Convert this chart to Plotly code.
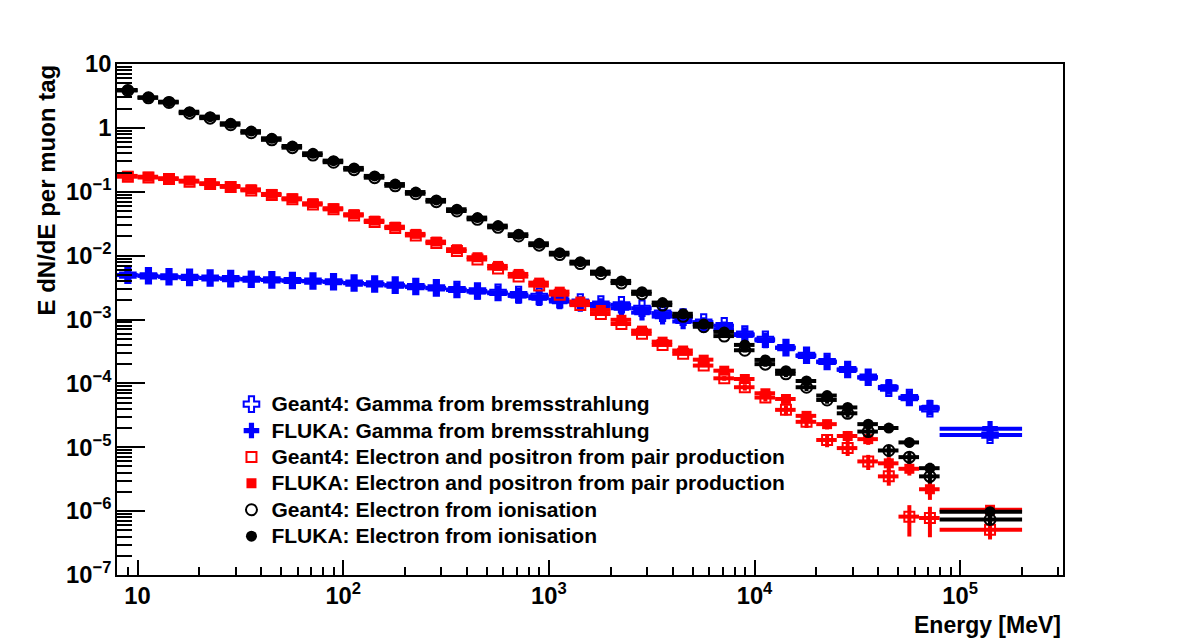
import plotly.graph_objects as go

# ---------------- data ----------------
# log-spaced bins: 10 per decade from 10^0.9 to 10^4.9, plus one wide overflow bin up to 2e5
bin_edges_exp = [0.9 + 0.1 * k for k in range(41)]
bin_lo = [10 ** e for e in bin_edges_exp[:-1]] + [10 ** 4.9]
bin_hi = [10 ** e for e in bin_edges_exp[1:]] + [2.0e5]

fluka_ion = [3.92, 3.01, 2.57, 1.79, 1.50, 1.18, 0.89, 0.687, 0.52, 0.40,
             0.307, 0.236, 0.177, 0.132, 0.099, 0.0745, 0.0532, 0.0394, 0.0295, 0.0216,
             0.0156, 0.0111, 0.00805, 0.00562, 0.00402, 0.00273, 0.00184, 0.00123, 8.5e-4, 6.4e-4,
             4.0e-4, 2.33e-4, 1.58e-4, 1.09e-4, 6.45e-5, 4.2e-5, 2.3e-5, 2.0e-5, 1.19e-5, 4.7e-6,
             9.8e-7]
geant4_ion = [3.85, 2.95, 2.50, 1.70, 1.42, 1.12, 0.84, 0.65, 0.49, 0.375,
              0.29, 0.222, 0.166, 0.124, 0.093, 0.070, 0.050, 0.037, 0.0277, 0.0203,
              0.0146, 0.0104, 0.0075, 0.0052, 0.00372, 0.00252, 0.00168, 0.00112, 7.7e-4, 5.5e-4,
              3.3e-4, 2.0e-4, 1.41e-4, 8.7e-5, 5.5e-5, 3.4e-5, 1.76e-5, 8.9e-6, 7.0e-6, 3.5e-6,
              7.4e-7]
fluka_pair = [0.177, 0.172, 0.163, 0.149, 0.136, 0.123, 0.109, 0.0924, 0.079, 0.066,
              0.0552, 0.0445, 0.0353, 0.0284, 0.0219, 0.0166, 0.0126, 0.00944, 0.0069, 0.00517,
              0.00378, 0.00273, 0.00191, 0.00141, 9.9e-4, 6.7e-4, 4.5e-4, 3.27e-4, 2.35e-4, 1.58e-4,
              1.17e-4, 7.0e-5, 5.7e-5, 3.1e-5, 2.3e-5, 1.5e-5, 1.34e-5, 5.6e-6, 4.6e-6, 2.2e-6,
              1.05e-6]
geant4_pair = [0.172, 0.167, 0.158, 0.144, 0.132, 0.119, 0.105, 0.089, 0.076, 0.063,
               0.053, 0.0425, 0.0336, 0.027, 0.0207, 0.0157, 0.0118, 0.0087, 0.0063, 0.0047,
               0.0034, 0.00245, 0.00168, 0.00122, 8.5e-4, 5.96e-4, 4.0e-4, 2.9e-4, 1.9e-4, 1.2e-4,
               8.7e-5, 6.0e-5, 3.85e-5, 2.5e-5, 1.3e-5, 9.7e-6, 6.0e-6, 3.5e-6, 8.2e-7, 7.8e-7,
               5.1e-7]
fluka_brems = [4.99e-3, 4.86e-3, 4.69e-3, 4.59e-3, 4.48e-3, 4.37e-3, 4.27e-3, 4.17e-3, 4.06e-3, 3.98e-3,
               3.89e-3, 3.70e-3, 3.57e-3, 3.40e-3, 3.24e-3, 3.09e-3, 2.90e-3, 2.73e-3, 2.58e-3, 2.34e-3,
               2.15e-3, 1.91e-3, 1.75e-3, 1.63e-3, 1.50e-3, 1.28e-3, 1.11e-3, 9.3e-4, 8.2e-4, 7.0e-4,
               5.7e-4, 4.7e-4, 3.6e-4, 2.69e-4, 2.15e-4, 1.63e-4, 1.23e-4, 8.8e-5, 5.9e-5, 4.2e-5,
               1.95e-5]
geant4_brems = [4.95e-3, 4.83e-3, 4.67e-3, 4.57e-3, 4.46e-3, 4.36e-3, 4.27e-3, 4.17e-3, 4.08e-3, 4.00e-3,
                3.90e-3, 3.72e-3, 3.60e-3, 3.45e-3, 3.28e-3, 3.13e-3, 2.95e-3, 2.80e-3, 2.66e-3, 2.45e-3,
                2.30e-3, 2.05e-3, 1.88e-3, 1.75e-3, 1.70e-3, 1.50e-3, 1.26e-3, 1.09e-3, 9.1e-4, 8.0e-4,
                5.9e-4, 4.9e-4, 3.63e-4, 2.75e-4, 2.2e-4, 1.65e-4, 1.25e-4, 8.4e-5, 6.0e-5, 4.0e-5,
                1.55e-5]

# vertical (statistical) errors, only visible in the high-energy tail
fluka_ion_err = [0] * 28 + [3e-5, 3e-5, 2.5e-5, 2e-5, 1.6e-5, 1.2e-5, 8e-6, 6e-6, 4e-6, 3e-6, 2e-6, 1e-6, 1.5e-7]
geant4_ion_err = [0] * 28 + [3e-5, 3e-5, 2.5e-5, 1.8e-5, 1.6e-5, 1.1e-5, 7e-6, 5e-6, 3e-6, 1.8e-6, 1.5e-6, 8e-7, 1.2e-7]
fluka_pair_err = [0] * 28 + [1.5e-5, 1.2e-5, 1.0e-5, 8e-6, 7e-6, 4.5e-6, 4e-6, 3e-6, 2.5e-6, 1.4e-6, 1.0e-6, 7e-7, 1.5e-7]
geant4_pair_err_up = [0] * 28 + [1.0e-5, 1.0e-5, 1.0e-5, 8e-6, 7e-6, 5e-6, 3e-6, 2.4e-6, 1.6e-6, 1.0e-6, 4.2e-7, 3.9e-7, 6.5e-7]
geant4_pair_err_dn = [0] * 28 + [1.0e-5, 1.0e-5, 1.0e-5, 8e-6, 7e-6, 5e-6, 3e-6, 2.4e-6, 1.6e-6, 1.0e-6, 4.2e-7, 3.9e-7, 1.5e-7]
fluka_brems_err = [0] * 36 + [1e-5, 8e-6, 6e-6, 5e-6, 4.5e-6]
geant4_brems_err = [0] * 36 + [1e-5, 8e-6, 6e-6, 5e-6, 3e-6]

x_center = [(lo + hi) / 2 for lo, hi in zip(bin_lo, bin_hi)]
x_half = [(hi - lo) / 2 for lo, hi in zip(bin_lo, bin_hi)]

BLUE = "#0000ff"
RED = "#ff0000"
BLACK = "#000000"

series = [
    ("Geant4: Gamma from bremsstrahlung", geant4_brems, geant4_brems_err, None, BLUE, "cross-open", 13),
    ("FLUKA: Gamma from bremsstrahlung", fluka_brems, fluka_brems_err, None, BLUE, "cross", 13),
    ("Geant4: Electron and positron from pair production", geant4_pair, geant4_pair_err_up, geant4_pair_err_dn, RED, "square-open", 10),
    ("FLUKA: Electron and positron from pair production", fluka_pair, fluka_pair_err, None, RED, "square", 10),
    ("Geant4: Electron from ionisation", geant4_ion, geant4_ion_err, None, BLACK, "circle-open", 11),
    ("FLUKA: Electron from ionisation", fluka_ion, fluka_ion_err, None, BLACK, "circle", 11),
]

fig = go.Figure()
for name, y, eup, edn, col, sym, size in series:
    ey = dict(type="data", array=eup, color=col, thickness=4, width=0, visible=True)
    if edn is not None:
        ey["symmetric"] = False
        ey["arrayminus"] = edn
    fig.add_trace(go.Scatter(
        x=x_center, y=y, mode="markers",
        name='<span style="font-size:21px;font-weight:bold">' + name + '</span>',
        marker=dict(symbol=sym, size=size, color=col,
                    line=dict(color=col, width=2 if "open" in sym else 0)),
        error_x=dict(type="data", array=x_half, color=col, thickness=4, width=0),
        error_y=ey,
    ))

font_family = "Liberation Sans, Arial, Helvetica, sans-serif"

fig.update_layout(
    width=1182, height=640,
    margin=dict(l=117, r=119, t=64, b=65),
    paper_bgcolor="white", plot_bgcolor="white",
    font=dict(family=font_family, color="black", size=18, weight="bold"),
    showlegend=True,
    legend=dict(x=0.121, y=0.37, xanchor="left", yanchor="top",
                bgcolor="rgba(0,0,0,0)", borderwidth=0,
                font=dict(family=font_family, size=18, color="black", weight="bold"),
                tracegroupgap=0, itemsizing="trace"),
    xaxis=dict(type="log", range=[0.9, 5.5], dtick=1, exponentformat="power",
               showgrid=False, zeroline=False,
               showline=True, linecolor="black", linewidth=1.5, mirror=True,
               ticks="inside", ticklen=15, tickwidth=1.5, tickcolor="black",
               tickfont=dict(family=font_family, size=19, color="black", weight="bold"),
               minor=dict(ticks="inside", ticklen=8, tickwidth=1.5, tickcolor="black",
                          dtick="D1", showgrid=False)),
    yaxis=dict(type="log", range=[-7, 1], dtick=1, exponentformat="power",
               showgrid=False, zeroline=False,
               showline=True, linecolor="black", linewidth=1.5, mirror=True,
               ticks="inside", ticklen=28, tickwidth=1.5, tickcolor="black",
               tickfont=dict(family=font_family, size=19, color="black", weight="bold"),
               minor=dict(ticks="inside", ticklen=15, tickwidth=1.5, tickcolor="black",
                          dtick="D1", showgrid=False)),
    annotations=[
        dict(text="Energy [MeV]", xref="paper", yref="paper", x=1.0, y=-0.097,
             xanchor="right", yanchor="middle", showarrow=False,
             font=dict(family=font_family, size=23, color="black", weight="bold")),
        dict(text="E dN/dE per muon tag", xref="paper", yref="paper", x=-0.075, y=1.002,
             xanchor="center", yanchor="top", textangle=-90, showarrow=False,
             font=dict(family=font_family, size=24, color="black", weight="bold")),
    ],
)

fig.write_html("out.html")
